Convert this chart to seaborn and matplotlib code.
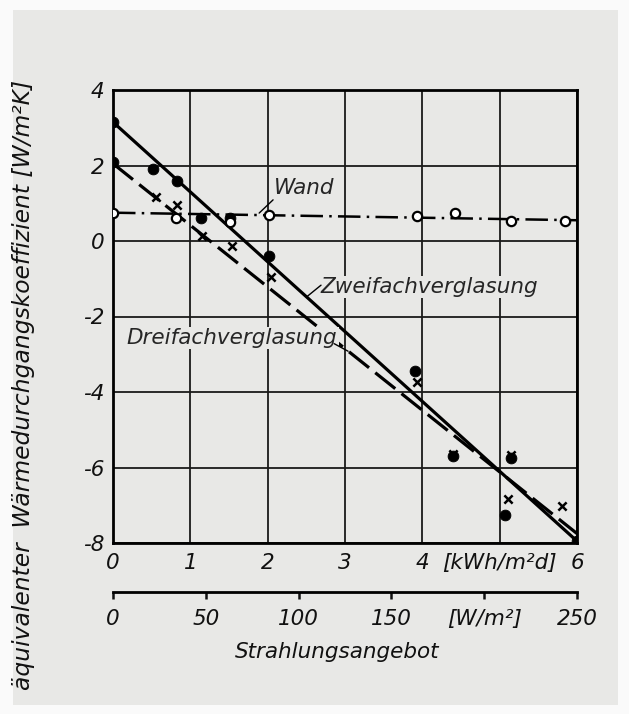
import numpy as np
import pandas as pd
import matplotlib
matplotlib.use("Agg")
import matplotlib.pyplot as plt
from matplotlib.patches import Rectangle
import seaborn as sns

# ---------------- data ----------------
# fitted lines (end points), x in kWh/m²d
zweifach_line_x = [0, 6]
zweifach_line_y = [3.15, -7.95]
dreifach_line_x = [0, 6]
dreifach_line_y = [2.05, -7.75]
wand_line_x = [0, 6]
wand_line_y = [0.75, 0.55]

# measured points
zweifach_x = [0.0, 0.0, 0.52, 0.83, 1.14, 1.51, 2.02, 3.90, 4.40, 5.15, 5.07, 6.0]
zweifach_y = [3.15, 2.08, 1.90, 1.59, 0.61, 0.62, -0.40, -3.44, -5.70, -5.75, -7.26, -7.95]
dreifach_x = [0.56, 0.83, 1.15, 1.54, 2.04, 3.93, 4.40, 5.15, 5.11, 5.81]
dreifach_y = [1.17, 0.95, 0.13, -0.13, -0.95, -3.73, -5.65, -5.67, -6.83, -7.02]
wand_x = [0.0, 0.82, 1.51, 2.02, 3.93, 4.42, 5.15, 5.85]
wand_y = [0.74, 0.61, 0.50, 0.69, 0.66, 0.74, 0.53, 0.53]

x_ticks = [0, 1, 2, 3, 4, 5, 6]
x_ticklabels = ["0", "1", "2", "3", "4", "[kWh/m²d]", "6"]
y_ticks = [4, 2, 0, -2, -4, -6, -8]
y_ticklabels = ["4", "2", "0", "-2", "-4", "-6", "-8"]
w_ticks = [0, 50, 100, 150, 200, 250]
w_ticklabels = ["0", "50", "100", "150", "[W/m²]", "250"]

# ---------------- style ----------------
sns.set_style("white")
plt.rcParams["font.family"] = ["DejaVu Sans"]
plt.rcParams["font.style"] = "italic"

panel = "#e8e8e6"
ink = "#111111"
fs = 15.5
W, H = 629, 714
fig = plt.figure(figsize=(W / 100, H / 100), dpi=100, facecolor="#fafafa")
fig.patches.append(Rectangle((13 / W, 1 - 705 / H), (618 - 13) / W, (705 - 10) / H,
                             transform=fig.transFigure, facecolor=panel,
                             edgecolor="none", zorder=-10))

L, R, T, B = 113, 577, 90, 543
ax = fig.add_axes([L / W, 1 - B / H, (R - L) / W, (B - T) / H])
ax.set_facecolor("none")

lw_main = 2.3
# lines
sns.lineplot(x=zweifach_line_x, y=zweifach_line_y, ax=ax, color="black",
             lw=lw_main, zorder=3)
sns.lineplot(x=dreifach_line_x, y=dreifach_line_y, ax=ax, color="black",
             lw=lw_main, zorder=3, dashes=False)
ax.lines[-1].set_dashes([8, 2.5])
sns.lineplot(x=wand_line_x, y=wand_line_y, ax=ax, color="black",
             lw=1.8, zorder=3)
ax.lines[-1].set_dashes([9, 2.5, 1, 2.5])

# points
sns.scatterplot(x=zweifach_x, y=zweifach_y, ax=ax, color="black", s=60,
                marker="o", edgecolor="black", zorder=5)
sns.scatterplot(x=dreifach_x, y=dreifach_y, ax=ax, color="black", s=35,
                marker="x", linewidth=1.8, zorder=5)
sns.scatterplot(x=wand_x, y=wand_y, ax=ax, s=45, marker="o",
                facecolor="white", edgecolor="black", linewidth=1.6, zorder=6)

ax.set_xlim(0, 6)
ax.set_ylim(-8, 4)
ax.set_xticks(x_ticks)
ax.set_xticklabels(x_ticklabels)
ax.set_yticks(y_ticks)
ax.set_yticklabels(y_ticklabels)
ax.tick_params(axis="both", length=0, labelsize=fs, colors=ink)
ax.tick_params(axis="x", pad=7)
ax.tick_params(axis="y", pad=6)
ax.grid(True, color="#1a1a1a", lw=1.3, zorder=0)
ax.set_axisbelow(True)
for s in ax.spines.values():
    s.set_visible(True)
    s.set_color("black")
    s.set_linewidth(2.0)

ax.set_ylabel("äquivalenter  Wärmedurchgangskoeffizient [W/m²K]", fontsize=16.8,
              color=ink)
ax.yaxis.set_label_coords(-0.168, 0.349)

# annotations
tb = dict(facecolor=panel, edgecolor="none", pad=1.0)
ax.text(2.08, 1.40, "Wand", fontsize=fs, va="center", ha="left", bbox=tb, zorder=4)
ax.plot([1.89, 2.07], [0.74, 1.09], color="black", lw=1.0, zorder=4)
ax.text(2.68, -1.22, "Zweifachverglasung", fontsize=fs, va="center", ha="left",
        bbox=tb, zorder=4)
ax.plot([2.51, 2.69], [-1.47, -1.17], color="black", lw=1.0, zorder=4)
ax.text(0.18, -2.57, "Dreifachverglasung", fontsize=fs, va="center", ha="left",
        bbox=tb, zorder=4)
ax.plot([2.86, 3.04], [-2.72, -2.92], color="black", lw=1.0, zorder=4)

# secondary W/m² scale
ax2 = fig.add_axes([L / W, 1 - 592 / H, (R - L) / W, 0.0001])
ax2.set_facecolor("none")
for k in ["left", "right", "top"]:
    ax2.spines[k].set_visible(False)
ax2.spines["bottom"].set_linewidth(2.0)
ax2.spines["bottom"].set_color("black")
ax2.set_xlim(0, 250)
ax2.set_yticks([])
ax2.set_xticks(w_ticks)
ax2.set_xticklabels(w_ticklabels)
ax2.tick_params(axis="x", bottom=True, direction="out", length=5, width=1.8,
                pad=7, labelsize=fs, colors=ink)
fig.text(337 / W, 1 - 652 / H, "Strahlungsangebot", fontsize=fs, ha="center",
         va="center", color=ink)

fig.savefig("out.png", dpi=100, facecolor=fig.get_facecolor())
